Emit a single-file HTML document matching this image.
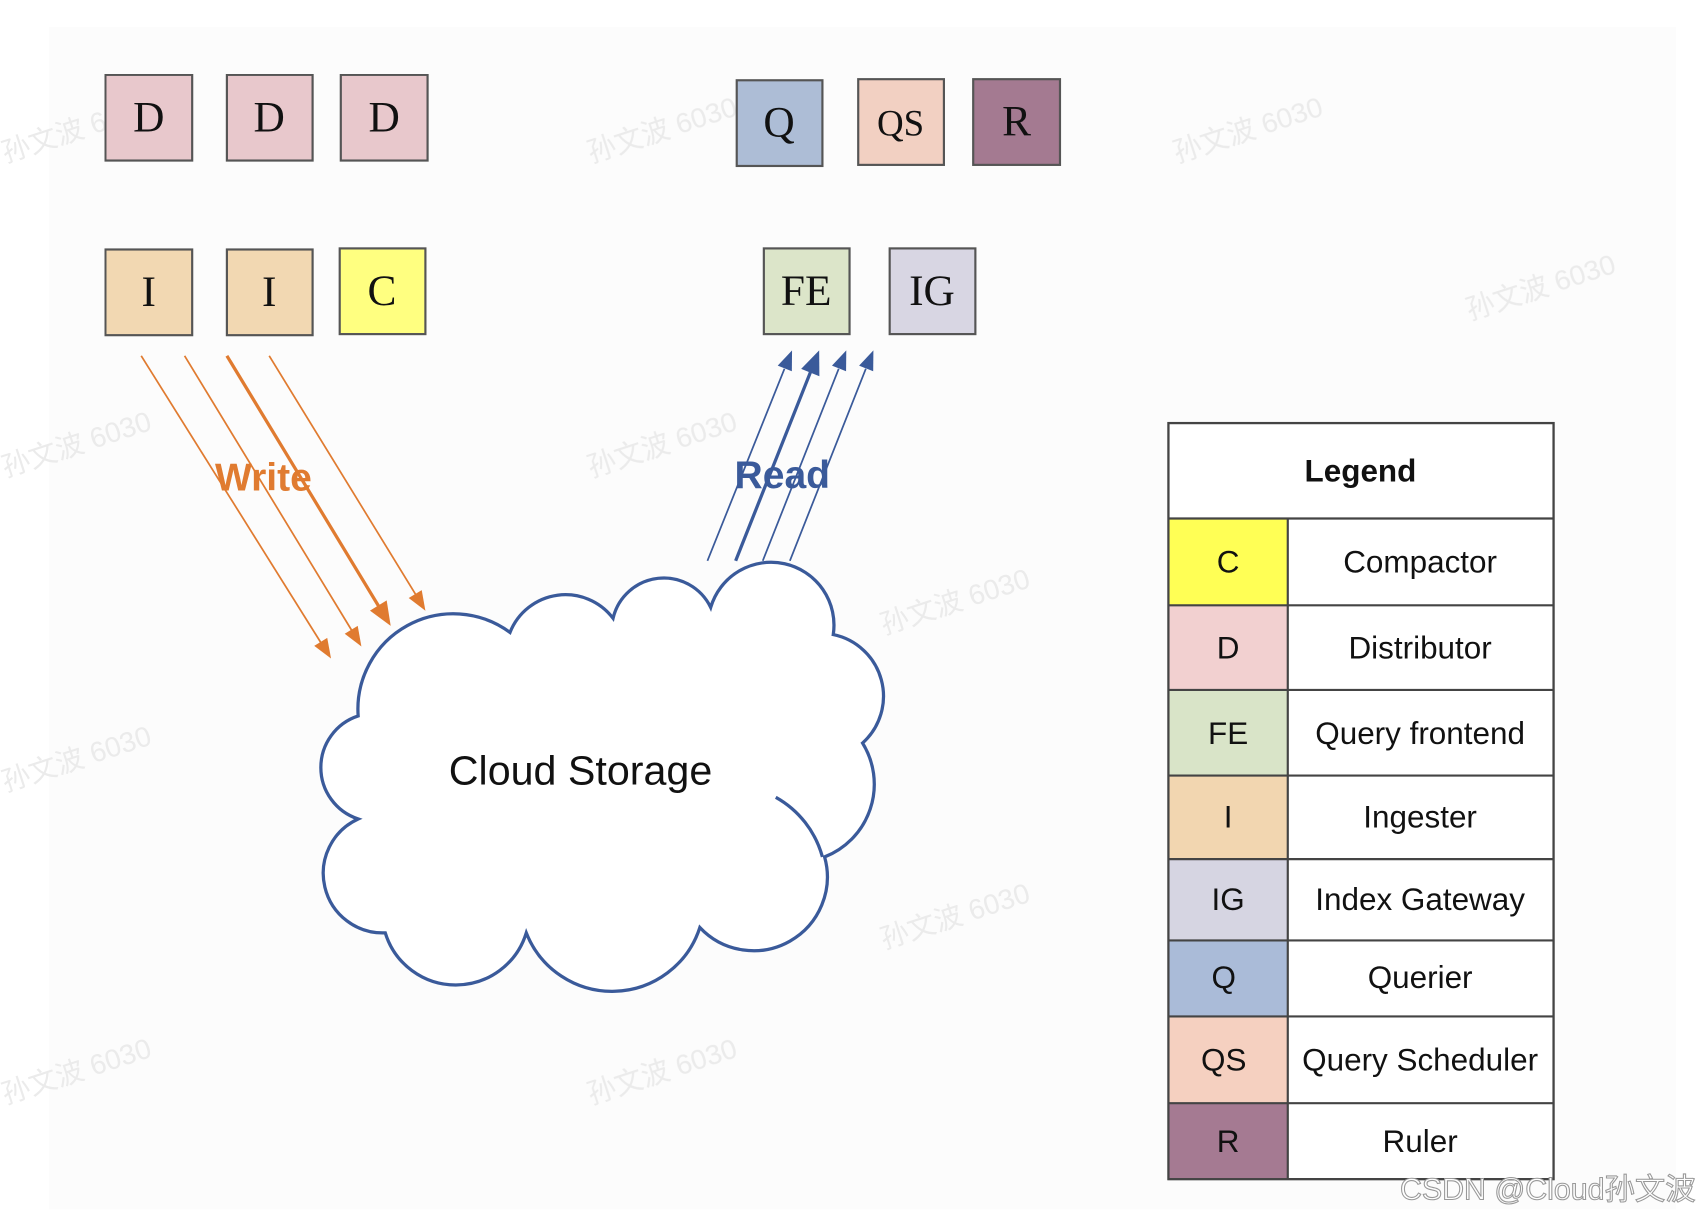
<!DOCTYPE html>
<html><head><meta charset="utf-8"><style>
html,body{margin:0;padding:0;background:#fff;}
svg{display:block;}
</style></head><body>
<svg width="1698" height="1216" viewBox="0 0 1565 1121" xmlns="http://www.w3.org/2000/svg">
<rect x="0" y="0" width="1565" height="1121" fill="#fff"/>
<rect x="45" y="25" width="1500" height="1090" fill="#fcfcfc"/>
<g font-family="Liberation Sans, Noto Sans CJK SC, sans-serif" font-size="26" fill="#e6e6e6" opacity="0.8">
<text x="5" y="150" transform="rotate(-18 5 150)">孙文波 6030</text>
<text x="545" y="150" transform="rotate(-18 545 150)">孙文波 6030</text>
<text x="1085" y="150" transform="rotate(-18 1085 150)">孙文波 6030</text>
<text x="1355" y="295" transform="rotate(-18 1355 295)">孙文波 6030</text>
<text x="5" y="440" transform="rotate(-18 5 440)">孙文波 6030</text>
<text x="545" y="440" transform="rotate(-18 545 440)">孙文波 6030</text>
<text x="815" y="585" transform="rotate(-18 815 585)">孙文波 6030</text>
<text x="5" y="730" transform="rotate(-18 5 730)">孙文波 6030</text>
<text x="815" y="875" transform="rotate(-18 815 875)">孙文波 6030</text>
<text x="5" y="1018" transform="rotate(-18 5 1018)">孙文波 6030</text>
<text x="545" y="1018" transform="rotate(-18 545 1018)">孙文波 6030</text>
</g>
<g stroke="#555" stroke-width="2" font-family="Liberation Serif, serif" font-size="40" text-anchor="middle">
<rect x="97" y="69" width="80" height="79" fill="#e8c8cc"/>
<rect x="209" y="69" width="79" height="79" fill="#e8c8cc"/>
<rect x="314" y="69" width="80" height="79" fill="#e8c8cc"/>
<rect x="679" y="74" width="79" height="79" fill="#adbdd6"/>
<rect x="791" y="73" width="79" height="79" fill="#f2d0c2"/>
<rect x="897" y="73" width="80" height="79" fill="#a47a91"/>
<rect x="97" y="230" width="80" height="79" fill="#f2d8b2"/>
<rect x="209" y="230" width="79" height="79" fill="#f2d8b2"/>
<rect x="313" y="229" width="79" height="79" fill="#ffff80"/>
<rect x="704" y="229" width="79" height="79" fill="#dce5c9"/>
<rect x="820" y="229" width="79" height="79" fill="#d8d6e3"/>
<g stroke="none" fill="#111">
<text x="137" y="121">D</text><text x="248" y="121">D</text><text x="354" y="121">D</text>
<text x="718" y="126">Q</text><text x="830" y="125" font-size="34">QS</text><text x="937" y="125">R</text>
<text x="137" y="282">I</text><text x="248" y="282">I</text><text x="352" y="281">C</text>
<text x="743" y="281">FE</text><text x="859" y="281">IG</text>
</g>
</g>
<g stroke="#e07b30" stroke-width="1.6" fill="none">
<line x1="130" y1="328" x2="296" y2="593"/>
<line x1="170" y1="328" x2="324" y2="581"/>
<line x1="209" y1="328" x2="349" y2="559" stroke-width="3"/>
<line x1="248" y1="328" x2="383" y2="548"/>
</g>
<g fill="#e07b30">
<polygon points="305,607 289.5,595.4 301.5,588"/>
<polygon points="333,596 317.6,584.2 329.6,577"/>
<polygon points="360,577 340.9,562.9 356.3,553.5"/>
<polygon points="392,563 376.6,551.3 388.6,544"/>
</g>
<g stroke="#3a5a9a" stroke-width="1.6" fill="none">
<line x1="652" y1="517" x2="723" y2="340"/>
<line x1="678" y1="517" x2="747" y2="343" stroke-width="3"/>
<line x1="703" y1="517" x2="773" y2="340"/>
<line x1="728" y1="517" x2="798" y2="340"/>
</g>
<g fill="#3a5a9a">
<polygon points="730,323 729.8,342.3 716.8,337.1"/>
<polygon points="755,323 755.2,346.8 738.4,340"/>
<polygon points="780,323 779.8,342.3 766.8,337.1"/>
<polygon points="805,323 804.8,342.3 791.8,337.1"/>
</g>
<text x="198" y="452" font-family="Liberation Sans, sans-serif" font-weight="bold" font-size="36" fill="#e07b30">Write</text>
<text x="677" y="450" font-family="Liberation Sans, sans-serif" font-weight="bold" font-size="36" fill="#3a5a9a">Read</text>
<path d="M330,660 A88,88 0 0 1 470,583 A55,55 0 0 1 565,570 A48,48 0 0 1 655,560 A58,58 0 0 1 768,585 A58,58 0 0 1 795,685 A72,72 0 0 1 760,790 A68,68 0 0 1 645,855 A85,85 0 0 1 485,860 A68,68 0 0 1 355,860 A55,55 0 0 1 330,755 A50,50 0 0 1 330,660 Z" fill="#fff" stroke="#3a5a9a" stroke-width="3"/>
<path d="M715,735 A90,90 0 0 1 758,790" fill="none" stroke="#3a5a9a" stroke-width="3"/>
<text x="535" y="723" font-family="Liberation Sans, sans-serif" font-size="38" fill="#111" text-anchor="middle">Cloud Storage</text>
<g font-family="Liberation Sans, sans-serif" font-size="29" fill="#111" text-anchor="middle">
<rect x="1077" y="390" width="355" height="697" fill="#fff" stroke="#444" stroke-width="2"/>
<rect x="1077" y="478" width="110" height="80" fill="#ffff55"/>
<rect x="1077" y="558" width="110" height="78" fill="#f2d0d0"/>
<rect x="1077" y="636" width="110" height="79" fill="#d9e4c8"/>
<rect x="1077" y="715" width="110" height="77" fill="#f2d6b0"/>
<rect x="1077" y="792" width="110" height="75" fill="#d6d5e2"/>
<rect x="1077" y="867" width="110" height="70" fill="#aabbd8"/>
<rect x="1077" y="937" width="110" height="80" fill="#f5d0c0"/>
<rect x="1077" y="1017" width="110" height="70" fill="#a57a92"/>
<g stroke="#444" stroke-width="2">
<line x1="1077" y1="478" x2="1432" y2="478"/><line x1="1077" y1="558" x2="1432" y2="558"/>
<line x1="1077" y1="636" x2="1432" y2="636"/><line x1="1077" y1="715" x2="1432" y2="715"/>
<line x1="1077" y1="792" x2="1432" y2="792"/><line x1="1077" y1="867" x2="1432" y2="867"/>
<line x1="1077" y1="937" x2="1432" y2="937"/><line x1="1077" y1="1017" x2="1432" y2="1017"/>
<line x1="1187" y1="478" x2="1187" y2="1087"/>
<rect x="1077" y="390" width="355" height="697" fill="none"/>
</g>
<text x="1254" y="444" font-weight="bold">Legend</text>
<text x="1132" y="528">C</text><text x="1309" y="528">Compactor</text>
<text x="1132" y="607">D</text><text x="1309" y="607">Distributor</text>
<text x="1132" y="686">FE</text><text x="1309" y="686">Query frontend</text>
<text x="1132" y="763">I</text><text x="1309" y="763">Ingester</text>
<text x="1132" y="839">IG</text><text x="1309" y="839">Index Gateway</text>
<text x="1128" y="911">Q</text><text x="1309" y="911">Querier</text>
<text x="1128" y="987">QS</text><text x="1309" y="987">Query Scheduler</text>
<text x="1132" y="1062">R</text><text x="1309" y="1062">Ruler</text>
</g>
<text x="1563" y="1106" text-anchor="end" font-family="Liberation Sans, Noto Sans CJK SC, sans-serif" font-size="28" fill="#fff" stroke="#999" stroke-width="1">CSDN @Cloud孙文波</text>
</svg>
</body></html>
